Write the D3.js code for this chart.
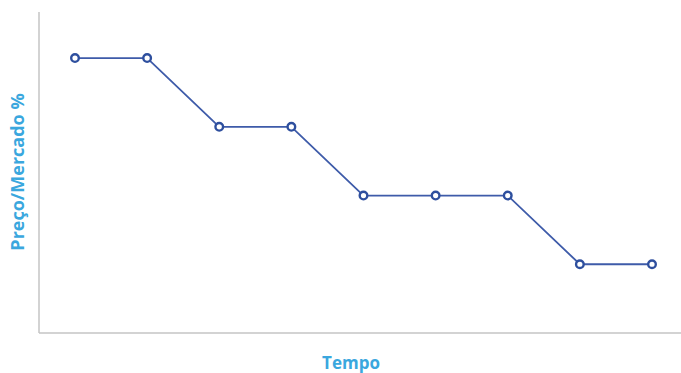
<!DOCTYPE html>
<html>
<head>
<meta charset="utf-8">
<script src="https://cdn.jsdelivr.net/npm/d3@7"></script>
<style>
  html, body { margin: 0; padding: 0; background: #fff; }
  svg { display: block; }
</style>
</head>
<body>
<svg id="chart" width="681" height="373"></svg>
<script>
// Dados do gráfico
const periods = ["1", "2", "3", "4", "5", "6", "7", "8", "9"];
const priceLevels = [4, 4, 3, 3, 2, 2, 2, 1, 1];
const axisLabels = { x: "Tempo", y: "Preço/Mercado %" };

const svg = d3.select("#chart");
const plot = { left: 39, right: 681, top: 12, bottom: 333 };

const x = d3.scalePoint()
  .domain(periods)
  .range([75, 652]);

const y = d3.scaleLinear()
  .domain([0, 4.67])
  .range([plot.bottom, plot.top]);

// Eixos (apenas linhas, sem marcas)
const axisColor = "#c4c4c4";
svg.append("line")
  .attr("x1", plot.left).attr("x2", plot.left)
  .attr("y1", plot.top).attr("y2", plot.bottom)
  .attr("stroke", axisColor).attr("stroke-width", 1.5);
svg.append("line")
  .attr("x1", plot.left).attr("x2", plot.right)
  .attr("y1", plot.bottom).attr("y2", plot.bottom)
  .attr("stroke", axisColor).attr("stroke-width", 1.5);

// Linha da série
const line = d3.line()
  .x((d, i) => x(periods[i]))
  .y(d => y(d));

svg.append("path")
  .datum(priceLevels)
  .attr("d", line)
  .attr("fill", "none")
  .attr("stroke", "#3e5ba9")
  .attr("stroke-width", 1.8);

// Marcadores
svg.selectAll("circle.pt")
  .data(priceLevels)
  .join("circle")
  .attr("class", "pt")
  .attr("cx", (d, i) => x(periods[i]))
  .attr("cy", d => y(d))
  .attr("r", 3.8)
  .attr("fill", "#fff")
  .attr("stroke", "#2e4f9e")
  .attr("stroke-width", 2.4);

// Rótulos dos eixos
const labelColor = "#3aa7de";
svg.append("text")
  .attr("x", 351)
  .attr("y", 369)
  .attr("text-anchor", "middle")
  .style("font-family", "'Open Sans', sans-serif")
  .style("font-weight", "700")
  .style("font-size", "17px")
  .style("fill", labelColor)
  .text(axisLabels.x);

svg.append("text")
  .attr("transform", "translate(24, 172) rotate(-90)")
  .attr("text-anchor", "middle")
  .style("font-family", "'Open Sans', sans-serif")
  .style("font-weight", "700")
  .style("font-size", "18px")
  .style("fill", labelColor)
  .text(axisLabels.y);
</script>
</body>
</html>
